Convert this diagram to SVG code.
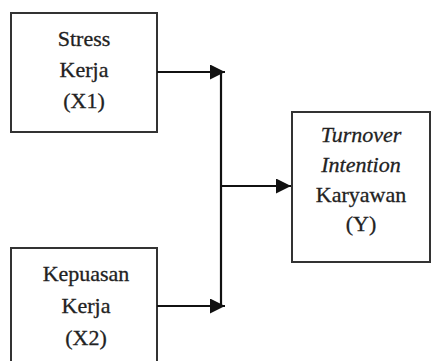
<svg xmlns="http://www.w3.org/2000/svg" width="433" height="361" viewBox="0 0 433 361">
<defs>
<style>
.box{fill:#fff;stroke:#333;stroke-width:2}
.t{font-family:'Liberation Serif','Times New Roman','DejaVu Serif',serif;font-size:22px;fill:#222;text-anchor:middle;stroke:#222;stroke-width:0.3}
.i{font-style:italic}
.c{fill:none;stroke:#111;stroke-width:2.2}
</style>
<marker id="ah" markerUnits="userSpaceOnUse" markerWidth="16" markerHeight="16" refX="15" refY="7.5" orient="auto">
<path d="M0,0 L15,7.5 L0,15 Z" fill="#111"/>
</marker>
</defs>
<rect width="433" height="361" fill="#fff"/>
<g id="x1">
<rect class="box" x="11" y="13" width="146" height="119"/>
<text class="t" x="84" y="46">Stress</text>
<text class="t" x="84" y="77">Kerja</text>
<text class="t" x="84" y="108">(X1)</text>
</g>
<g id="x2">
<rect class="box" x="11" y="248" width="146" height="130"/>
<text class="t" x="86" y="281">Kepuasan</text>
<text class="t" x="86" y="313">Kerja</text>
<text class="t" x="86" y="345">(X2)</text>
</g>
<g id="y">
<rect class="box" x="292" y="112" width="138" height="150"/>
<text class="t i" x="361" y="142">Turnover</text>
<text class="t i" x="361" y="172">Intention</text>
<text class="t" x="361" y="202">Karyawan</text>
<text class="t" x="361" y="231">(Y)</text>
</g>
<g id="connectors">
<line class="c" x1="157" y1="72" x2="225" y2="72" marker-end="url(#ah)"/>
<line class="c" x1="157" y1="306" x2="225" y2="306" marker-end="url(#ah)"/>
<line class="c" x1="221" y1="72" x2="221" y2="306"/>
<line class="c" x1="221" y1="186" x2="291" y2="186" marker-end="url(#ah)"/>
</g>
</svg>
